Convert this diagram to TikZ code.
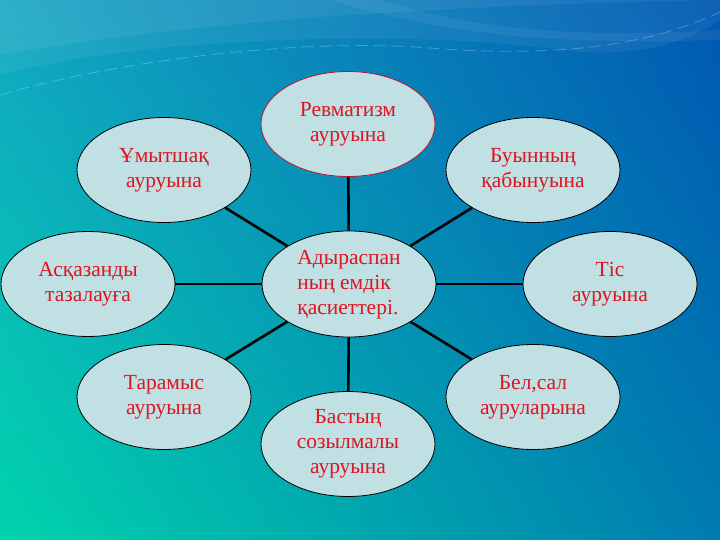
\documentclass[tikz,border=0pt]{standalone}
\usepackage{fontspec}
\setmainfont{Liberation Serif}
\usetikzlibrary{shapes.geometric,shadings}
\definecolor{bgUL}{RGB}{18,165,195}
\definecolor{bgUR}{RGB}{0,88,178}
\definecolor{bgLL}{RGB}{0,212,172}
\definecolor{bgLR}{RGB}{0,124,176}
\definecolor{bubblefill}{RGB}{192,224,228}
\definecolor{bubbletext}{RGB}{222,20,32}
\definecolor{bubbleredline}{RGB}{190,20,50}
\tikzset{
  bubble/.style={ellipse, draw=black, line width=0.8pt, fill=bubblefill,
    minimum width=174pt, minimum height=105pt, inner sep=0pt,
    text=bubbletext, align=center, font=\fontsize{21.5}{25}\selectfont},
  spoke/.style={line width=2.6pt, black},
  swoosh/.style={white, fill opacity=0.06, draw=none}
}
\begin{document}
\begin{tikzpicture}[x=1pt,y=-1pt]
\useasboundingbox (0,0) rectangle (720,540);
\shade[upper left=bgUL, upper right=bgUR, lower left=bgLL, lower right=bgLR]
  (0,0) rectangle (720,540);
% light swooshes at the top
\fill[swoosh] (0,0) -- (0,75) .. controls (150,35) and (420,30) .. (560,50)
  .. controls (640,60) and (690,40) .. (720,20) -- (720,0) -- cycle;
\fill[swoosh] (0,0) -- (0,55) .. controls (200,20) and (450,5) .. (720,0) -- cycle;
\fill[white, fill opacity=0.06] (330,0) .. controls (450,35) and (550,45) .. (720,40)
  -- (720,30) .. controls (560,40) and (460,25) .. (380,0) -- cycle;
\draw[white, opacity=0.25, line width=0.8pt, dash pattern=on 12pt off 6pt]
  (0,95) .. controls (120,60) and (300,38) .. (430,48)
  .. controls (560,58) and (650,45) .. (720,12);

\node[bubble] (c) at (349,284) {\begin{tabular}{@{}l@{}}Адыраспан\\ның емдік\\ қасиеттері.\end{tabular}};
\node[bubble, draw=bubbleredline] (top) at (348,124) {Ревматизм\\ауруына};
\node[bubble] (ur) at (533,170) {Буынның\\қабынуына};
\node[bubble] (r) at (610,284) {Тіс\\ауруына};
\node[bubble] (lr) at (533,397) {Бел,сал\\ауруларына};
\node[bubble] (b) at (348,444) {Бастың\\созылмалы\\ауруына};
\node[bubble] (ll) at (164,397) {Тарамыс\\ауруына};
\node[bubble] (l) at (88,284) {Асқазанды\\тазалауға};
\node[bubble] (ul) at (164,170) {Ұмытшақ\\ауруына};

\foreach \n in {top,ur,r,lr,b,ll,l,ul}
  \draw[spoke] (c) -- (\n);
\end{tikzpicture}
\end{document}
